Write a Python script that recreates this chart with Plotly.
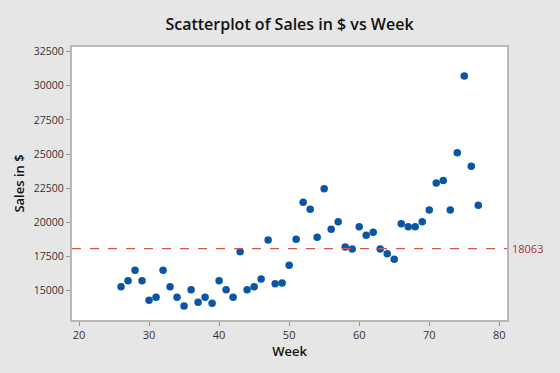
import plotly.graph_objects as go

weeks = list(range(26, 78))
sales = [15270, 15710, 16470, 15710, 14270, 14490, 16470, 15270, 14490, 13860,
         15050, 14130, 14490, 14050, 15710, 15050, 14490, 17840, 15050, 15270,
         15840, 18690, 15490, 15540, 16840, 18750, 21460, 20950, 18890, 22460,
         19480, 20040, 18180, 18040, 19670, 19040, 19260, 18040, 17690, 17280,
         19890, 19670, 19670, 20040, 20890, 22870, 23060, 20890, 25090, 30720,
         24100, 21240]
ref_value = 18063
x_ticks = [20, 30, 40, 50, 60, 70, 80]
y_ticks = [15000, 17500, 20000, 22500, 25000, 27500, 30000, 32500]
y_tick_labels = [str(v) for v in y_ticks]

font = "Open Sans"
fig = go.Figure()
fig.add_trace(go.Scatter(x=weeks, y=sales, mode="markers",
                         marker=dict(color="#0a56a6", size=7.5, line=dict(width=0)),
                         showlegend=False))
fig.add_shape(type="line", xref="paper", yref="y", x0=0, x1=1, y0=ref_value, y1=ref_value,
              line=dict(color="#d9534f", width=1.3, dash="dash"))
fig.add_annotation(xref="paper", yref="y", x=1.0, y=ref_value, text=str(ref_value),
                   showarrow=False, xanchor="left", xshift=3,
                   font=dict(family=font, size=11, color="#b0303a"))

fig.update_layout(
    width=560, height=373,
    margin=dict(l=72, r=53, t=47, b=53),
    paper_bgcolor="#e6e6e6", plot_bgcolor="white",
    title=dict(text="Scatterplot of Sales in $ vs Week", x=0.5, xref="paper", y=0.935,
               yanchor="middle", font=dict(family=font, size=16, color="#111", weight=600)),
    font=dict(family=font, size=11, color="#333"),
)
fig.update_xaxes(range=[19, 81.1], tickvals=x_ticks, showgrid=False, zeroline=False,
                 showline=True, mirror=True, linecolor="#b8b8b8", linewidth=2,
                 ticks="outside", ticklen=4, tickcolor="#999", tickfont=dict(size=11, color="#333"),
                 title=dict(text="Week", standoff=4, font=dict(family=font, size=13, color="#111", weight=600)))
fig.update_yaxes(range=[12830, 32845], tickvals=y_ticks, ticktext=y_tick_labels,
                 showgrid=False, zeroline=False,
                 showline=True, mirror=True, linecolor="#b8b8b8", linewidth=2,
                 ticks="outside", ticklen=4, tickcolor="#999", tickfont=dict(size=10.5, color="#333"),
                 title=dict(text="Sales in $", standoff=6, font=dict(family=font, size=13, color="#111", weight=600)))

fig.write_html("out.html")
